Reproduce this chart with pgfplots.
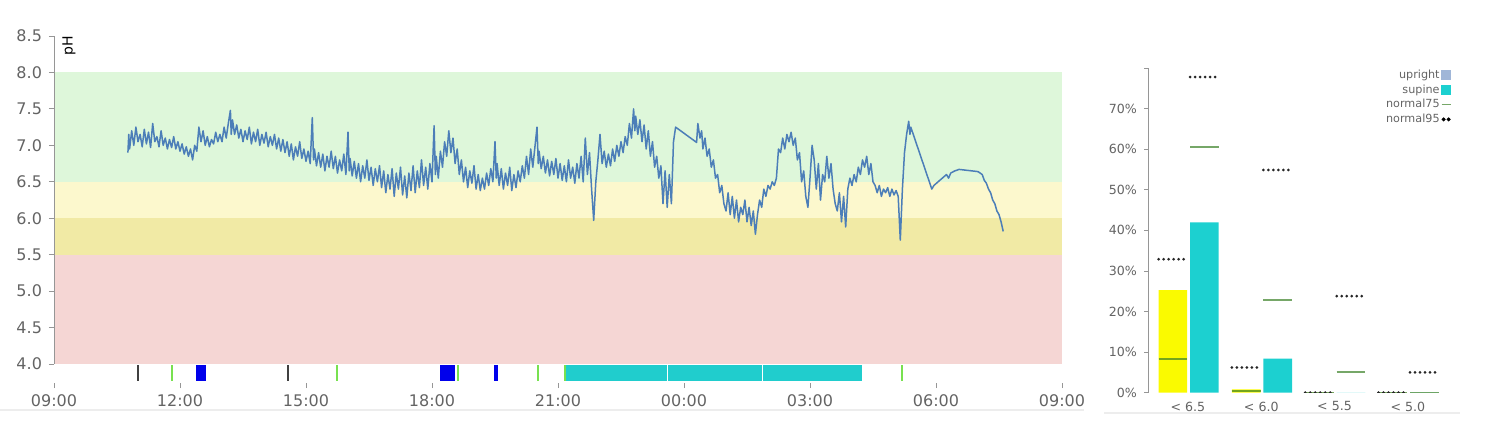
\documentclass[border=0pt]{standalone}
\usepackage{pgfplots}
\pgfplotsset{compat=1.18}
\usepackage{fontspec}
\setmainfont{DejaVu Sans}
\definecolor{bandgreen}{RGB}{222,247,218}
\definecolor{bandyellow}{RGB}{252,248,205}
\definecolor{banddark}{RGB}{241,234,165}
\definecolor{bandpink}{RGB}{245,214,212}
\definecolor{trace}{RGB}{76,126,184}
\definecolor{evgreen}{RGB}{120,225,80}
\definecolor{evblue}{RGB}{0,0,235}
\definecolor{evcyan}{RGB}{32,205,205}
\definecolor{cyanbar}{RGB}{28,208,208}
\definecolor{yellowbar}{RGB}{250,250,0}
\definecolor{uprightblue}{RGB}{160,182,216}
\definecolor{green75}{RGB}{60,130,40}
\definecolor{labelgray}{RGB}{100,100,100}
\definecolor{axisgray}{RGB}{150,150,150}
\begin{document}
\begin{tikzpicture}
\path[use as bounding box] (0,0) rectangle (750pt,223pt);
\draw[black!7, line width=1pt] (0pt,18pt) -- (542pt,18pt);
\draw[black!7, line width=1pt] (552pt,16.5pt) -- (730pt,16.5pt);
% ---------------- left: pH trace ----------------
\begin{axis}[
  at={(27pt,31.5pt)}, anchor=south west,
  scale only axis, width=504pt, height=173.5pt,
  xmin=0, xmax=24, ymin=3.74, ymax=8.5,
  axis lines=left, axis line style={draw=none},
  tick align=outside, major tick length=2.5pt,
  tick style={axisgray, thin},
  xtick={0,3,6,9,12,15,18,21,24},
  xticklabels={09:00,12:00,15:00,18:00,21:00,00:00,03:00,06:00,09:00},
  ytick={4,4.5,5,5.5,6,6.5,7,7.5,8,8.5},
  yticklabels={4.0,4.5,5.0,5.5,6.0,6.5,7.0,7.5,8.0,8.5},
  tick label style={font=\fontsize{8}{9}\selectfont, text=labelgray},
  unbounded coords=jump,
]
\addplot[fill=bandgreen, draw=none] coordinates {(0,6.5) (24,6.5) (24,8) (0,8)} --cycle;
\addplot[fill=bandyellow, draw=none] coordinates {(0,6.0) (24,6.0) (24,6.5) (0,6.5)} --cycle;
\addplot[fill=banddark, draw=none] coordinates {(0,5.5) (24,5.5) (24,6.0) (0,6.0)} --cycle;
\addplot[fill=bandpink, draw=none] coordinates {(0,4.0) (24,4.0) (24,5.5) (0,5.5)} --cycle;
\draw[axisgray, thin] (axis cs:0,4) -- (axis cs:0,8.5);
% pH trace
\addplot[trace, line width=0.75pt, line join=round] coordinates {
(1.76,6.90) (1.78,7.15) (1.80,6.95) (1.85,7.20) (1.90,7.00) (1.95,7.25) (2.00,7.05) (2.05,7.15)
(2.10,6.98) (2.15,7.22) (2.20,7.02) (2.25,7.18) (2.30,6.97) (2.35,7.30) (2.40,7.05) (2.45,7.12)
(2.50,6.98) (2.55,7.20) (2.60,7.00) (2.65,7.10) (2.70,6.95) (2.75,7.08) (2.80,6.97) (2.85,7.12)
(2.90,6.95) (2.95,7.05) (3.00,6.92) (3.05,7.02) (3.10,6.88) (3.15,6.98) (3.20,6.85) (3.25,6.95)
(3.30,6.80) (3.35,7.00) (3.40,6.92) (3.45,7.25) (3.50,7.05) (3.55,7.20) (3.60,7.00) (3.65,7.12)
(3.70,6.98) (3.75,7.08) (3.80,7.02) (3.85,7.18) (3.90,7.05) (3.95,7.15) (4.00,7.05) (4.05,7.25)
(4.10,7.10) (4.15,7.30) (4.20,7.48) (4.22,7.15) (4.25,7.35) (4.30,7.15) (4.35,7.28) (4.40,7.10)
(4.45,7.22) (4.50,7.05) (4.55,7.20) (4.60,7.08) (4.65,7.25) (4.70,7.02) (4.75,7.18) (4.80,7.05)
(4.85,7.22) (4.90,7.00) (4.95,7.15) (5.00,7.03) (5.05,7.18) (5.10,6.98) (5.15,7.12) (5.20,7.00)
(5.25,7.15) (5.30,6.95) (5.35,7.10) (5.40,6.92) (5.45,7.08) (5.50,6.90) (5.55,7.05) (5.60,6.85)
(5.65,7.02) (5.70,6.80) (5.75,6.98) (5.80,6.85) (5.85,7.05) (5.90,6.82) (5.95,6.95) (6.00,6.78)
(6.05,6.92) (6.10,6.75) (6.15,7.38) (6.18,6.80) (6.20,6.95) (6.25,6.72) (6.30,6.90) (6.35,6.70)
(6.40,6.88) (6.45,6.65) (6.50,6.85) (6.55,6.70) (6.60,6.92) (6.65,6.68) (6.70,6.85) (6.75,6.62)
(6.80,6.80) (6.85,6.65) (6.90,6.88) (6.95,6.60) (7.00,7.18) (7.03,6.65) (7.05,6.82) (7.10,6.58)
(7.15,6.78) (7.20,6.55) (7.25,6.75) (7.30,6.50) (7.35,6.72) (7.40,6.55) (7.45,6.80) (7.50,6.52)
(7.55,6.70) (7.60,6.45) (7.65,6.68) (7.70,6.50) (7.75,6.72) (7.80,6.42) (7.85,6.65) (7.90,6.35)
(7.95,6.60) (8.00,6.40) (8.05,6.68) (8.10,6.30) (8.15,6.62) (8.20,6.40) (8.25,6.70) (8.30,6.32)
(8.35,6.58) (8.40,6.28) (8.45,6.62) (8.50,6.38) (8.55,6.72) (8.60,6.35) (8.65,6.65) (8.70,6.42)
(8.75,6.80) (8.80,6.45) (8.85,6.70) (8.90,6.40) (8.95,6.75) (9.00,6.50) (9.05,7.27) (9.08,6.60)
(9.10,6.85) (9.15,6.55) (9.20,6.92) (9.25,6.70) (9.30,7.05) (9.35,6.85) (9.40,7.20) (9.45,6.90)
(9.50,7.10) (9.55,6.75) (9.60,6.95) (9.65,6.60) (9.70,6.80) (9.75,6.50) (9.80,6.70) (9.85,6.42)
(9.90,6.65) (9.95,6.48) (10.00,6.72) (10.05,6.40) (10.10,6.60) (10.15,6.38) (10.20,6.55) (10.25,6.40)
(10.30,6.62) (10.35,6.45) (10.40,6.68) (10.45,6.50) (10.50,7.05) (10.53,6.55) (10.55,6.75) (10.60,6.45)
(10.65,6.68) (10.70,6.40) (10.75,6.62) (10.80,6.45) (10.85,6.70) (10.90,6.38) (10.95,6.60) (11.00,6.42)
(11.05,6.65) (11.10,6.50) (11.15,6.72) (11.20,6.55) (11.25,6.85) (11.30,6.60) (11.35,6.95) (11.40,6.70)
(11.50,7.25) (11.53,6.75) (11.55,6.92) (11.60,6.68) (11.65,6.85) (11.70,6.62) (11.75,6.80) (11.80,6.58)
(11.85,6.78) (11.90,6.60) (11.95,6.82) (12.00,6.55) (12.05,6.75) (12.10,6.52) (12.15,6.72) (12.20,6.50)
(12.25,6.80) (12.30,6.55) (12.35,6.70) (12.40,6.48) (12.45,6.75) (12.50,6.55) (12.55,6.85) (12.60,6.50)
(12.65,7.10) (12.70,6.60) (12.75,6.90) (12.80,6.40) (12.85,5.97) (12.90,6.50) (12.95,6.80) (13.00,7.15)
(13.05,6.75) (13.10,6.92) (13.15,6.70) (13.20,6.88) (13.25,6.72) (13.30,6.95) (13.35,6.78) (13.40,7.00)
(13.45,6.85) (13.50,7.05) (13.55,6.90) (13.60,7.12) (13.65,7.00) (13.70,7.30) (13.75,7.10) (13.80,7.50)
(13.83,7.20) (13.85,7.40) (13.90,7.15) (13.95,7.35) (14.00,7.05) (14.05,7.28) (14.10,6.95) (14.15,7.20)
(14.20,6.85) (14.25,7.05) (14.30,6.70) (14.35,6.85) (14.40,6.55) (14.45,6.72) (14.50,6.20) (14.55,6.65)
(14.60,6.15) (14.65,6.60) (14.70,6.20) (14.75,7.05) (14.80,7.25) (15.30,7.04) (15.33,7.30) (15.38,7.10)
(15.42,7.20) (15.45,6.95) (15.50,7.10) (15.55,6.85) (15.60,6.95) (15.65,6.70) (15.70,6.80) (15.75,6.55)
(15.80,6.60) (15.85,6.35) (15.90,6.45) (15.95,6.20) (16.00,6.10) (16.05,6.35) (16.10,6.05) (16.15,6.30)
(16.20,6.00) (16.25,6.25) (16.30,5.95) (16.35,6.15) (16.40,6.05) (16.45,6.25) (16.50,5.95) (16.55,6.15)
(16.60,5.90) (16.65,6.10) (16.70,5.78) (16.75,6.05) (16.80,6.25) (16.85,6.15) (16.90,6.40) (16.95,6.30)
(17.00,6.45) (17.05,6.40) (17.10,6.50) (17.15,6.45) (17.20,6.55) (17.25,6.95) (17.30,6.90) (17.35,7.10)
(17.40,6.95) (17.45,7.15) (17.50,7.05) (17.55,7.18) (17.60,7.00) (17.65,7.10) (17.70,6.80) (17.75,6.90)
(17.80,6.50) (17.85,6.65) (17.90,6.30) (17.95,6.15) (18.00,6.55) (18.05,7.00) (18.10,6.80) (18.15,6.40)
(18.20,6.75) (18.25,6.25) (18.30,6.60) (18.35,6.50) (18.40,6.85) (18.45,6.55) (18.50,6.75) (18.55,6.40)
(18.60,6.20) (18.65,6.10) (18.70,6.35) (18.75,5.95) (18.80,6.30) (18.85,5.88) (18.90,6.40) (18.95,6.55)
(19.00,6.45) (19.05,6.60) (19.10,6.50) (19.15,6.70) (19.20,6.60) (19.25,6.80) (19.30,6.70) (19.35,6.85)
(19.40,6.60) (19.45,6.75) (19.50,6.50) (19.55,6.45) (19.60,6.35) (19.65,6.45) (19.70,6.30) (19.75,6.40)
(19.80,6.35) (19.85,6.42) (19.90,6.30) (19.95,6.40) (20.00,6.32) (20.05,6.38) (20.10,6.30) (20.15,5.70)
(20.20,6.40) (20.25,6.90) (20.30,7.15) (20.35,7.33) (20.38,7.15) (20.40,7.25) (20.90,6.40) (20.95,6.45)
(21.05,6.50) (21.15,6.55) (21.25,6.60) (21.30,6.55) (21.35,6.62) (21.45,6.65) (21.55,6.67) (21.70,6.66)
(21.85,6.65) (22.00,6.64) (22.10,6.60) (22.15,6.52) (22.20,6.48) (22.25,6.40) (22.30,6.35) (22.35,6.25)
(22.40,6.20) (22.45,6.10) (22.50,6.05) (22.55,5.95) (22.60,5.82)
};
% event bars
\addplot[fill=evblue, draw=none] coordinates {(3.38,3.77) (3.62,3.77) (3.62,3.985) (3.38,3.985)} --cycle;
\addplot[fill=evblue, draw=none] coordinates {(9.19,3.77) (9.55,3.77) (9.55,3.985) (9.19,3.985)} --cycle;
\addplot[fill=evblue, draw=none] coordinates {(10.47,3.77) (10.58,3.77) (10.58,3.985) (10.47,3.985)} --cycle;
\addplot[fill=evcyan, draw=none] coordinates {(12.19,3.77) (19.24,3.77) (19.24,3.985) (12.19,3.985)} --cycle;
\addplot[white, line width=0.5pt] coordinates {(14.60,3.77) (14.60,3.985) (nan,nan) (16.86,3.77) (16.86,3.985)};
\addplot[black!75, line width=0.6pt] coordinates {(2.00,3.77) (2.00,3.985) (nan,nan) (5.57,3.77) (5.57,3.985)};
\addplot[evgreen, line width=0.7pt] coordinates {(2.81,3.77) (2.81,3.985) (nan,nan) (6.74,3.77) (6.74,3.985)
 (nan,nan) (9.62,3.77) (9.62,3.985) (nan,nan) (11.52,3.77) (11.52,3.985) (nan,nan) (12.17,3.77) (12.17,3.985)
 (nan,nan) (20.19,3.77) (20.19,3.985)};
\node[rotate=90, anchor=east, font=\fontsize{7}{8}\selectfont, inner sep=0pt] at ([xshift=7.5pt]axis cs:0,8.5) {pH};
\end{axis}
% ---------------- right: bar chart ----------------
\begin{axis}[
  at={(574pt,26.65pt)}, anchor=south west,
  scale only axis, width=151.9pt, height=162.3pt,
  xmin=-0.545, xmax=3.6, ymin=0, ymax=80,
  axis lines=left, axis line style={-, axisgray, thin},
  x axis line style={draw=none},
  tick align=outside, major tick length=2pt,
  tick style={axisgray, thin},
  xtick={0,1,2,3}, xticklabels={< 6.5,< 6.0,< 5.5,< 5.0},
  xtick style={draw=none},
  ytick={0,10,20,30,40,50,60,70,80},
  yticklabels={0\%,10\%,20\%,30\%,40\%,50\%,60\%,70\%,},
  tick label style={font=\fontsize{6.3}{7}\selectfont, text=labelgray},
  xticklabel style={yshift=1pt},
  unbounded coords=jump,
  legend plot pos=right,
  legend style={draw=none, fill=none, at={(1,1.0)}, anchor=north east,
    inner sep=0pt, row sep=0.9pt, font=\fontsize{5.6}{6.5}\selectfont,
    text=labelgray, cells={anchor=east},
    nodes={inner sep=0.6pt, text height=4.3pt, text depth=1pt}},
]
\addplot[ybar, bar width=0.39, bar shift=-0.205, fill=yellowbar, draw=none, forget plot]
  coordinates {(0,25.3) (1,0.8) (2,0) (3,0)};
\addplot[ybar, bar width=0.39, bar shift=0.225, fill=cyanbar, draw=none, forget plot]
  coordinates {(0,42.0) (1,8.4) (2,0) (3,0)};
% normal75 (green)
\addplot[green75, opacity=0.7, line width=1pt, forget plot] coordinates {
 (-0.40,8.2) (-0.01,8.2) (nan,nan) (0.60,0.5) (0.99,0.5) (nan,nan) (1.60,0) (1.99,0) (nan,nan) (2.60,0) (2.99,0)
 (nan,nan) (0.03,60.5) (0.42,60.5) (nan,nan) (1.03,22.8) (1.42,22.8) (nan,nan) (2.03,5.1) (2.42,5.1) (nan,nan) (3.03,0) (3.42,0)};
% normal95 (black dots)
\addplot[black!85, line width=1.5pt, line cap=round, dash pattern=on 0pt off 2.5pt, forget plot] coordinates {
 (-0.40,32.9) (-0.01,32.9) (nan,nan) (0.60,6.2) (0.99,6.2) (nan,nan) (1.60,0) (1.99,0) (nan,nan) (2.60,0) (2.99,0)
 (nan,nan) (0.03,77.8) (0.42,77.8) (nan,nan) (1.03,54.9) (1.42,54.9) (nan,nan) (2.03,23.8) (2.42,23.8) (nan,nan) (3.03,5.0) (3.42,5.0)};
\addlegendimage{legend image code/.code={\fill[uprightblue] (1pt,-2.1pt) rectangle (5.5pt,2.1pt);}}
\addlegendentry{upright}
\addlegendimage{legend image code/.code={\fill[cyanbar] (1pt,-2.1pt) rectangle (5.5pt,2.1pt);}}
\addlegendentry{supine}
\addlegendimage{legend image code/.code={\draw[green75, opacity=0.7, line width=0.8pt] (1pt,0pt) -- (5.5pt,0pt);}}
\addlegendentry{normal75}
\addlegendimage{legend image code/.code={\fill[black] (2pt,0pt) circle (0.8pt); \fill[black] (4.5pt,0pt) circle (0.8pt);}}
\addlegendentry{normal95}
\end{axis}
\end{tikzpicture}
\end{document}
